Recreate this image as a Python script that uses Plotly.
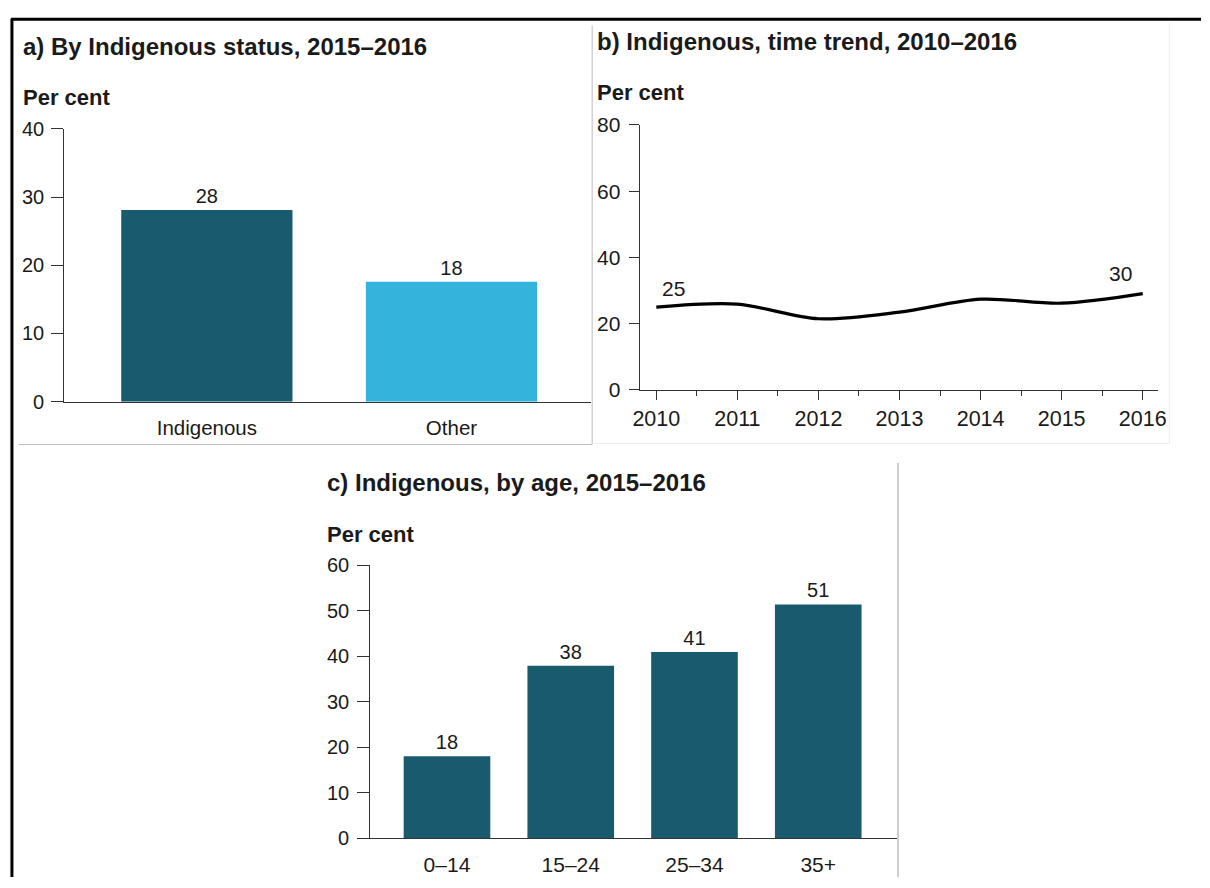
import plotly.graph_objects as go

# ---------------- data ----------------
status_categories = ["Indigenous", "Other"]
status_values = [28.1, 17.6]
status_labels = ["28", "18"]
status_colors = ["#1a5a6e", "#34b3dc"]

trend_years = [2010, 2011, 2012, 2013, 2014, 2015, 2016]
trend_values = [25.0, 25.9, 21.5, 23.5, 27.4, 26.2, 29.1]
trend_end_labels = ["25", "30"]

age_categories = ["0–14", "15–24", "25–34", "35+"]
age_values = [18.0, 37.9, 40.9, 51.4]
age_labels = ["18", "38", "41", "51"]
age_color = "#1a5a6e"

titles = ["a) By Indigenous status, 2015–2016",
          "b) Indigenous, time trend, 2010–2016",
          "c) Indigenous, by age, 2015–2016"]
unit_label = "Per cent"

# ---------------- layout helpers ----------------
W, H = 1210, 888
FONT = "Liberation Sans, Arial, sans-serif"
TXT = "#1a1a1a"
AX = "#333333"


def px(x):
    return x / W


def py(y):
    return 1 - y / H


fig = go.Figure()

# panel a
fig.add_trace(go.Bar(
    x=status_categories, y=status_values, text=status_labels,
    textposition="outside", cliponaxis=False,
    textfont=dict(size=20, color=TXT, family=FONT),
    marker=dict(color=status_colors, line=dict(width=0)),
    width=0.7, xaxis="x", yaxis="y", showlegend=False, hoverinfo="skip"))

# panel b
fig.add_trace(go.Scatter(
    x=trend_years, y=trend_values, mode="lines",
    line=dict(color="black", width=3.2, shape="spline", smoothing=0.9),
    xaxis="x2", yaxis="y2", showlegend=False, hoverinfo="skip"))

# panel c
fig.add_trace(go.Bar(
    x=age_categories, y=age_values, text=age_labels,
    textposition="outside", cliponaxis=False,
    textfont=dict(size=20, color=TXT, family=FONT),
    marker=dict(color=age_color, line=dict(width=0)),
    width=0.7, xaxis="x3", yaxis="y3", showlegend=False, hoverinfo="skip"))

common_y = dict(showgrid=False, zeroline=False, showline=True, linecolor=AX,
                linewidth=1, ticks="outside", tickcolor=AX, tickwidth=1,
                tickfont=dict(size=20, color=TXT, family=FONT))
common_x = dict(showgrid=False, zeroline=False, showline=True, linecolor=AX,
                linewidth=1, tickfont=dict(size=20.5, color=TXT, family=FONT))

fig.update_layout(
    autosize=True, margin=dict(l=0, r=0, t=0, b=0),
    paper_bgcolor="white", plot_bgcolor="white",
    font=dict(family=FONT, color=TXT),
    xaxis=dict(common_x, domain=[px(58), px(592)], anchor="y",
               type="category", range=[-0.583, 1.571], ticks="",
               ticklabelstandoff=8),
    yaxis=dict(common_y, domain=[py(400), py(120)], anchor="x",
               range=[0, 40], dtick=10, ticklen=12, ticklabelstandoff=3),
    xaxis2=dict(common_x, domain=[px(641), px(1166)], anchor="y2",
                range=[2009.793, 2016.183], tick0=2010, dtick=1,
                ticks="outside", ticklen=9, tickcolor=AX,
                minor=dict(dtick=0.5, tick0=2010, ticks="outside", ticklen=5,
                           tickcolor=AX),
                tickfont=dict(size=21.5, color=TXT, family=FONT)),
    yaxis2=dict(common_y, domain=[py(388), py(116)], anchor="x2",
                range=[0, 80], dtick=20, ticklen=10, ticklabelstandoff=4,
                tickfont=dict(size=21, color=TXT, family=FONT)),
    xaxis3=dict(common_x, domain=[px(368), px(902)], anchor="y3",
                type="category", range=[-0.621, 3.637], ticks="",
                ticklabelstandoff=8,
                tickfont=dict(size=21, color=TXT, family=FONT)),
    yaxis3=dict(common_y, domain=[py(848), py(568)], anchor="x3",
                range=[0, 60], dtick=10, ticklen=12, ticklabelstandoff=4),
)

annotations = []
# titles and unit labels
for t, (tx, ty), (ux, uy) in zip(titles,
                                  [(14, 35), (596, 30), (322, 483)],
                                  [(14, 88), (596, 83), (322, 536)]):
    annotations.append(dict(text="<b>" + t + "</b>", x=px(tx), y=py(ty),
                            xref="paper", yref="paper", xanchor="left",
                            yanchor="middle", showarrow=False,
                            font=dict(size=24, color=TXT, family=FONT)))
    annotations.append(dict(text="<b>" + unit_label + "</b>", x=px(ux), y=py(uy),
                            xref="paper", yref="paper", xanchor="left",
                            yanchor="middle", showarrow=False,
                            font=dict(size=22, color=TXT, family=FONT)))

# end labels for trend line
annotations.append(dict(text=trend_end_labels[0], x=trend_years[0],
                        y=trend_values[0], xref="x2", yref="y2",
                        xanchor="center", yanchor="bottom", xshift=17,
                        yshift=5, showarrow=False,
                        font=dict(size=21, color=TXT, family=FONT)))
annotations.append(dict(text=trend_end_labels[1], x=trend_years[-1],
                        y=trend_values[-1], xref="x2", yref="y2",
                        xanchor="center", yanchor="bottom", xshift=-22,
                        yshift=7, showarrow=False,
                        font=dict(size=21, color=TXT, family=FONT)))
fig.update_layout(annotations=annotations)

# frame lines
shapes = []


def line(x0, y0, x1, y1, color, width):
    shapes.append(dict(type="line", xref="paper", yref="paper",
                       x0=px(x0), y0=py(y0), x1=px(x1), y1=py(y1),
                       line=dict(color=color, width=width), layer="below"))


line(4, 7.5, 1210, 7.5, "black", 3)
line(5, 7, 5, 888, "black", 3)
line(12, 444, 593, 444, "#bdbdbd", 1)
line(593, 14, 593, 444, "#bdbdbd", 1)
line(595, 443, 1178, 443, "#ececec", 1)
line(1178, 11, 1178, 443, "#ececec", 1)
line(903, 463, 903, 888, "#bdbdbd", 1.5)
fig.update_layout(shapes=shapes)

fig.write_html(
    "out.html",
    config={"displayModeBar": False, "responsive": True},
    default_width="100vw", default_height="100vh",
    post_script="document.body.style.margin='0';"
                "document.body.style.overflow='hidden';")
